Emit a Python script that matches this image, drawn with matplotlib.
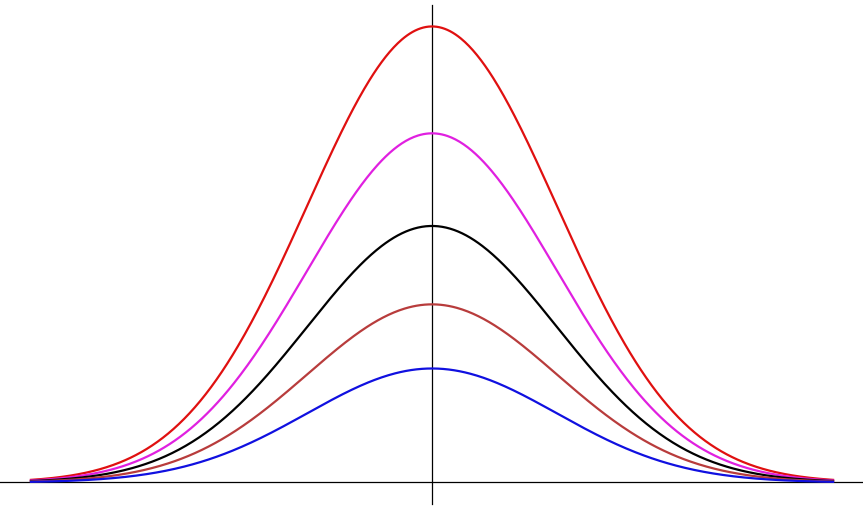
import numpy as np
import matplotlib
matplotlib.use("Agg")
import matplotlib.pyplot as plt

# Curve parameters (peak heights relative to the blue curve)
labels = ["red", "magenta", "black", "brown", "blue"]
peaks = [4.0, 3.0625, 2.25, 1.5625, 1.0]
colors = ["#e01010", "#e020e0", "#000000", "#b83c3c", "#1010e0"]
sigma = 1.0
x_half_range = 3.22

fig = plt.figure(figsize=(8.63, 5.31), dpi=100)
ax = fig.add_axes([0, 0, 1, 1])
ax.set_xlim(-3.459, 3.451)
ax.set_ylim(-0.4254, 4.232)
ax.axis("off")

# axes lines
ax.plot([-3.459, 3.451], [0, 0], color="black", lw=0.9, zorder=1)
ax.plot([0, 0], [-0.1886, 4.189], color="black", lw=0.9, zorder=1)

x = np.linspace(-x_half_range, x_half_range, 600)
for i, (p, c) in enumerate(zip(peaks, colors)):
    y = p * np.exp(-x**2 / (2 * sigma**2))
    ax.plot(x, y, color=c, lw=1.6, zorder=2 + i, solid_capstyle="butt")

fig.savefig("out.png", dpi=100)
